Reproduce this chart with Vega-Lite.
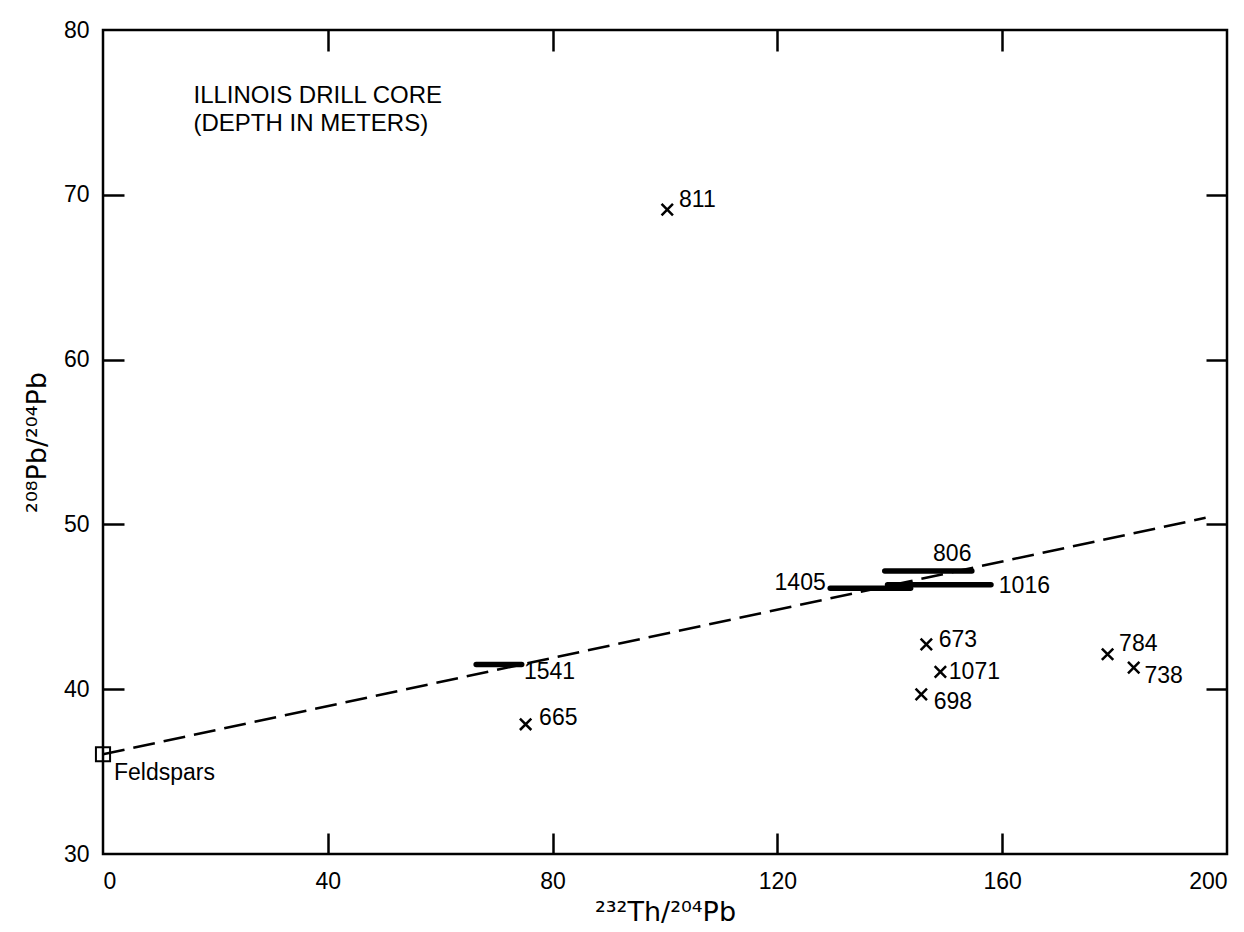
{
  "$schema": "https://vega.github.io/schema/vega-lite/v6.json",
  "width": 1124,
  "height": 824,
  "autosize": "none",
  "padding": {"left": 103, "top": 30, "right": 17, "bottom": 78},
  "background": "white",
  "config": {
    "font": "Liberation Sans",
    "view": {"stroke": "black", "strokeWidth": 2.5},
    "axis": {"grid": false, "domain": false, "tickColor": "black", "tickWidth": 2.5, "tickSize": 21, "labelColor": "black", "titleColor": "black", "labelFontSize": 23, "labelFont": "Liberation Sans", "titleFont": "DejaVu Sans", "titleFontWeight": "normal", "titleFontSize": 27}
  },
  "datasets": {
    "line": [{"x": 0, "y": 36.05}, {"x": 196.2, "y": 50.4}],
    "bars": [
      {"name": "1541", "x1": 66.4, "x2": 74.5, "y": 41.5},
      {"name": "1405", "x1": 129.4, "x2": 143.7, "y": 46.13},
      {"name": "1016", "x1": 139.6, "x2": 158.0, "y": 46.34},
      {"name": "806", "x1": 139.1, "x2": 154.6, "y": 47.17}
    ],
    "points": [
      {"name": "811", "x": 100.4, "y": 69.1},
      {"name": "665", "x": 75.2, "y": 37.87},
      {"name": "673", "x": 146.5, "y": 42.72},
      {"name": "1071", "x": 149.0, "y": 41.05},
      {"name": "698", "x": 145.6, "y": 39.69},
      {"name": "784", "x": 178.75, "y": 42.12},
      {"name": "738", "x": 183.4, "y": 41.31}
    ],
    "feldspar": [{"x": 0, "y": 36.05}],
    "labels": [
      {"text": "811", "lx": 102.5, "ly": 69.7, "side": "left"},
      {"text": "665", "lx": 77.6, "ly": 38.27, "side": "left"},
      {"text": "1541", "lx": 74.9, "ly": 41.04, "side": "left"},
      {"text": "1405", "lx": 128.6, "ly": 46.44, "side": "right"},
      {"text": "1016", "lx": 159.4, "ly": 46.24, "side": "left"},
      {"text": "806", "lx": 147.7, "ly": 48.2, "side": "left"},
      {"text": "673", "lx": 148.7, "ly": 42.96, "side": "left"},
      {"text": "1071", "lx": 150.5, "ly": 41.05, "side": "left"},
      {"text": "698", "lx": 147.8, "ly": 39.2, "side": "left"},
      {"text": "784", "lx": 180.8, "ly": 42.77, "side": "left"},
      {"text": "738", "lx": 185.3, "ly": 40.8, "side": "left"},
      {"text": "Feldspars", "lx": 1.96, "ly": 34.9, "side": "left"}
    ],
    "title": [
      {"text": "ILLINOIS DRILL CORE", "lx": 16.1, "ly": 76.02},
      {"text": "(DEPTH IN METERS)", "lx": 16.1, "ly": 74.28}
    ]
  },
  "resolve": {"axis": {"x": "independent", "y": "independent"}},
  "layer": [
    {
      "data": {"name": "line"},
      "mark": {"type": "line", "color": "black", "strokeWidth": 2.5, "strokeDash": [22, 9]},
      "encoding": {
        "x": {"field": "x", "type": "quantitative", "scale": {"domain": [0, 200], "nice": false, "zero": false},
              "axis": {"orient": "bottom", "values": [0, 40, 80, 120, 160, 200], "ticks": false, "labelPadding": 16, "title": "²³²Th/²⁰⁴Pb", "titlePadding": 6}},
        "y": {"field": "y", "type": "quantitative", "scale": {"domain": [30, 80], "nice": false, "zero": false},
              "axis": {"orient": "left", "values": [30, 40, 50, 60, 70, 80], "ticks": false, "labelPadding": 14, "title": "²⁰⁸Pb/²⁰⁴Pb", "titlePadding": 12}}
      }
    },
    {
      "data": {"name": "bars"},
      "mark": {"type": "rule", "color": "black", "strokeWidth": 5.5, "strokeCap": "round"},
      "encoding": {
        "x": {"field": "x1", "type": "quantitative", "scale": {"domain": [0, 200], "nice": false, "zero": false},
              "axis": {"orient": "top", "offset": -824, "values": [40, 80, 120, 160], "labels": false, "title": null}},
        "x2": {"field": "x2"},
        "y": {"field": "y", "type": "quantitative", "scale": {"domain": [30, 80], "nice": false, "zero": false},
              "axis": {"orient": "right", "offset": -1124, "values": [40, 50, 60, 70], "labels": false, "title": null}}
      }
    },
    {
      "data": {"name": "points"},
      "mark": {"type": "point", "shape": "M-1,-1L1,1M-1,1L1,-1", "size": 130, "color": "black", "opacity": 1, "strokeWidth": 2.5, "filled": false},
      "encoding": {
        "x": {"field": "x", "type": "quantitative", "scale": {"domain": [0, 200], "nice": false, "zero": false},
              "axis": {"orient": "bottom", "offset": -824, "values": [40, 80, 120, 160], "labels": false, "title": null}},
        "y": {"field": "y", "type": "quantitative", "scale": {"domain": [30, 80], "nice": false, "zero": false},
              "axis": {"orient": "left", "offset": -1124, "values": [40, 50, 60, 70], "labels": false, "title": null}}
      }
    },
    {
      "data": {"name": "feldspar"},
      "mark": {"type": "point", "shape": "square", "size": 200, "color": "black", "opacity": 1, "strokeWidth": 2, "filled": false},
      "encoding": {
        "x": {"field": "x", "type": "quantitative", "scale": {"domain": [0, 200], "nice": false, "zero": false}, "axis": null},
        "y": {"field": "y", "type": "quantitative", "scale": {"domain": [30, 80], "nice": false, "zero": false}, "axis": null}
      }
    },
    {
      "data": {"name": "labels"},
      "transform": [{"filter": "datum.side === 'left'"}],
      "mark": {"type": "text", "align": "left", "baseline": "middle", "fontSize": 23, "color": "black", "font": "Liberation Sans"},
      "encoding": {
        "x": {"field": "lx", "type": "quantitative", "scale": {"domain": [0, 200], "nice": false, "zero": false}, "axis": null},
        "y": {"field": "ly", "type": "quantitative", "scale": {"domain": [30, 80], "nice": false, "zero": false}, "axis": null},
        "text": {"field": "text"}
      }
    },
    {
      "data": {"name": "labels"},
      "transform": [{"filter": "datum.side === 'right'"}],
      "mark": {"type": "text", "align": "right", "baseline": "middle", "fontSize": 23, "color": "black", "font": "Liberation Sans"},
      "encoding": {
        "x": {"field": "lx", "type": "quantitative", "scale": {"domain": [0, 200], "nice": false, "zero": false}, "axis": null},
        "y": {"field": "ly", "type": "quantitative", "scale": {"domain": [30, 80], "nice": false, "zero": false}, "axis": null},
        "text": {"field": "text"}
      }
    },
    {
      "data": {"name": "title"},
      "mark": {"type": "text", "align": "left", "baseline": "middle", "fontSize": 24, "color": "black", "font": "Liberation Sans"},
      "encoding": {
        "x": {"field": "lx", "type": "quantitative", "scale": {"domain": [0, 200], "nice": false, "zero": false}, "axis": null},
        "y": {"field": "ly", "type": "quantitative", "scale": {"domain": [30, 80], "nice": false, "zero": false}, "axis": null},
        "text": {"field": "text"}
      }
    }
  ]
}
